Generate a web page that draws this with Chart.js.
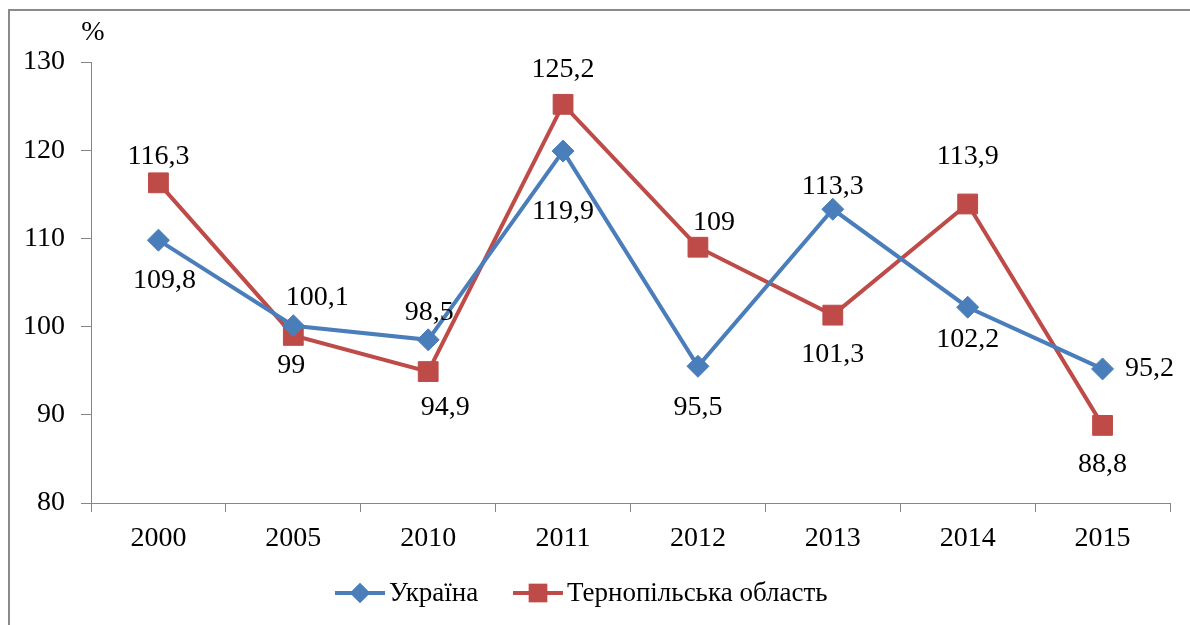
<!DOCTYPE html>
<html>
<head>
<meta charset="utf-8">
<script src="https://cdn.jsdelivr.net/npm/chart.js@4/dist/chart.umd.min.js"></script>
<style>
  html, body { margin: 0; padding: 0; width: 1190px; height: 625px; overflow: hidden; background: #fff; }
  #frame { position: absolute; left: 8px; top: 9px; width: 1300px; height: 800px; border: 2px solid #8a8a8a; box-sizing: border-box; }
  #c { position: absolute; left: 0; top: 0; }
</style>
</head>
<body>
<div id="frame"></div>
<canvas id="c" width="1190" height="625"></canvas>
<script>
const categories = ['2000', '2005', '2010', '2011', '2012', '2013', '2014', '2015'];
const ukraineValues = [109.8, 100.1, 98.5, 119.9, 95.5, 113.3, 102.2, 95.2];
const ternopilValues = [116.3, 99, 94.9, 125.2, 109, 101.3, 113.9, 88.8];
const seriesNames = ['Україна', 'Тернопільська область'];
const yTicks = [80, 90, 100, 110, 120, 130];
const unitLabel = '%';

const FONT = "'Liberation Serif', 'Times New Roman', serif";
const FS = 28;
const LFS = 27;
const BLUE = '#4a7ebb';
const RED = '#be4b48';
const AXIS = '#868686';

// label offsets relative to each point (pixels)
const labelOffsets = [
  [[6, 40], [24, -28], [1, -27], [0, 61], [0, 41], [0, -23], [0, 32], [47, 0]],
  [[0, -26], [-2, 30], [17, 36], [0, -35], [16, -25], [0, 40], [0, -47], [0, 39]]
];

const fmt = v => String(v).replace('.', ',');

const overlayPlugin = {
  id: 'overlay',
  afterDatasetsDraw(chart) {
    const ctx = chart.ctx;
    ctx.save();
    ctx.font = FS + 'px ' + FONT;
    ctx.fillStyle = '#000';
    ctx.textAlign = 'center';
    ctx.textBaseline = 'middle';
    chart.data.datasets.forEach((ds, di) => {
      const meta = chart.getDatasetMeta(di);
      meta.data.forEach((pt, i) => {
        const off = labelOffsets[di][i];
        ctx.fillText(fmt(ds.data[i]), pt.x + off[0], pt.y + off[1]);
      });
    });
    // unit label
    ctx.fillText(unitLabel, chart.chartArea.left + 2, 33);
    // legend
    ctx.font = LFS + 'px ' + FONT;
    const ly = 593;
    const items = [
      { x: 335, color: BLUE, style: 'rectRot', r: 10 },
      { x: 513, color: RED, style: 'rect', r: 13 }
    ];
    ctx.textAlign = 'left';
    items.forEach((it, k) => {
      ctx.strokeStyle = it.color;
      ctx.lineWidth = 4;
      ctx.beginPath();
      ctx.moveTo(it.x, ly);
      ctx.lineTo(it.x + 50, ly);
      ctx.stroke();
      ctx.fillStyle = it.color;
      Chart.helpers.drawPoint(ctx, { pointStyle: it.style, radius: it.r, borderWidth: 0 }, it.x + 25, ly);
      ctx.fill();
      ctx.fillStyle = '#000';
      ctx.fillText(seriesNames[k], it.x + 54, ly + 1);
    });
    ctx.restore();
  }
};

new Chart(document.getElementById('c'), {
  type: 'line',
  data: {
    labels: categories,
    datasets: [
      {
        label: seriesNames[0], data: ukraineValues,
        borderColor: BLUE, backgroundColor: BLUE, borderWidth: 4,
        pointStyle: 'rectRot', pointRadius: 11, pointHoverRadius: 11,
        pointBackgroundColor: BLUE, pointBorderColor: BLUE, pointBorderWidth: 1,
        tension: 0
      },
      {
        label: seriesNames[1], data: ternopilValues,
        borderColor: RED, backgroundColor: RED, borderWidth: 4,
        pointStyle: 'rect', pointRadius: 14, pointHoverRadius: 14,
        pointBackgroundColor: RED, pointBorderColor: RED, pointBorderWidth: 1,
        tension: 0
      }
    ]
  },
  options: {
    responsive: false,
    animation: false,
    events: [],
    layout: { padding: { top: 62, right: 20, left: 0, bottom: 0 } },
    plugins: { legend: { display: false }, tooltip: { enabled: false } },
    scales: {
      x: {
        offset: true,
        grid: { offset: true, drawOnChartArea: false, drawTicks: true, tickLength: 9, color: AXIS, lineWidth: 1 },
        border: { color: AXIS, width: 1 },
        ticks: { color: '#000', font: { family: FONT, size: FS }, padding: 10, maxRotation: 0 },
        afterFit(scale) { scale.height = 122; }
      },
      y: {
        min: 80, max: 130,
        afterBuildTicks(scale) { scale.ticks = yTicks.map(v => ({ value: v })); },
        grid: { drawOnChartArea: false, drawTicks: true, tickLength: 10, color: AXIS, lineWidth: 1 },
        border: { color: AXIS, width: 1 },
        ticks: { color: '#000', font: { family: FONT, size: FS }, padding: 16 },
        afterFit(scale) { scale.width = 91; }
      }
    }
  },
  plugins: [overlayPlugin]
});
</script>
</body>
</html>
